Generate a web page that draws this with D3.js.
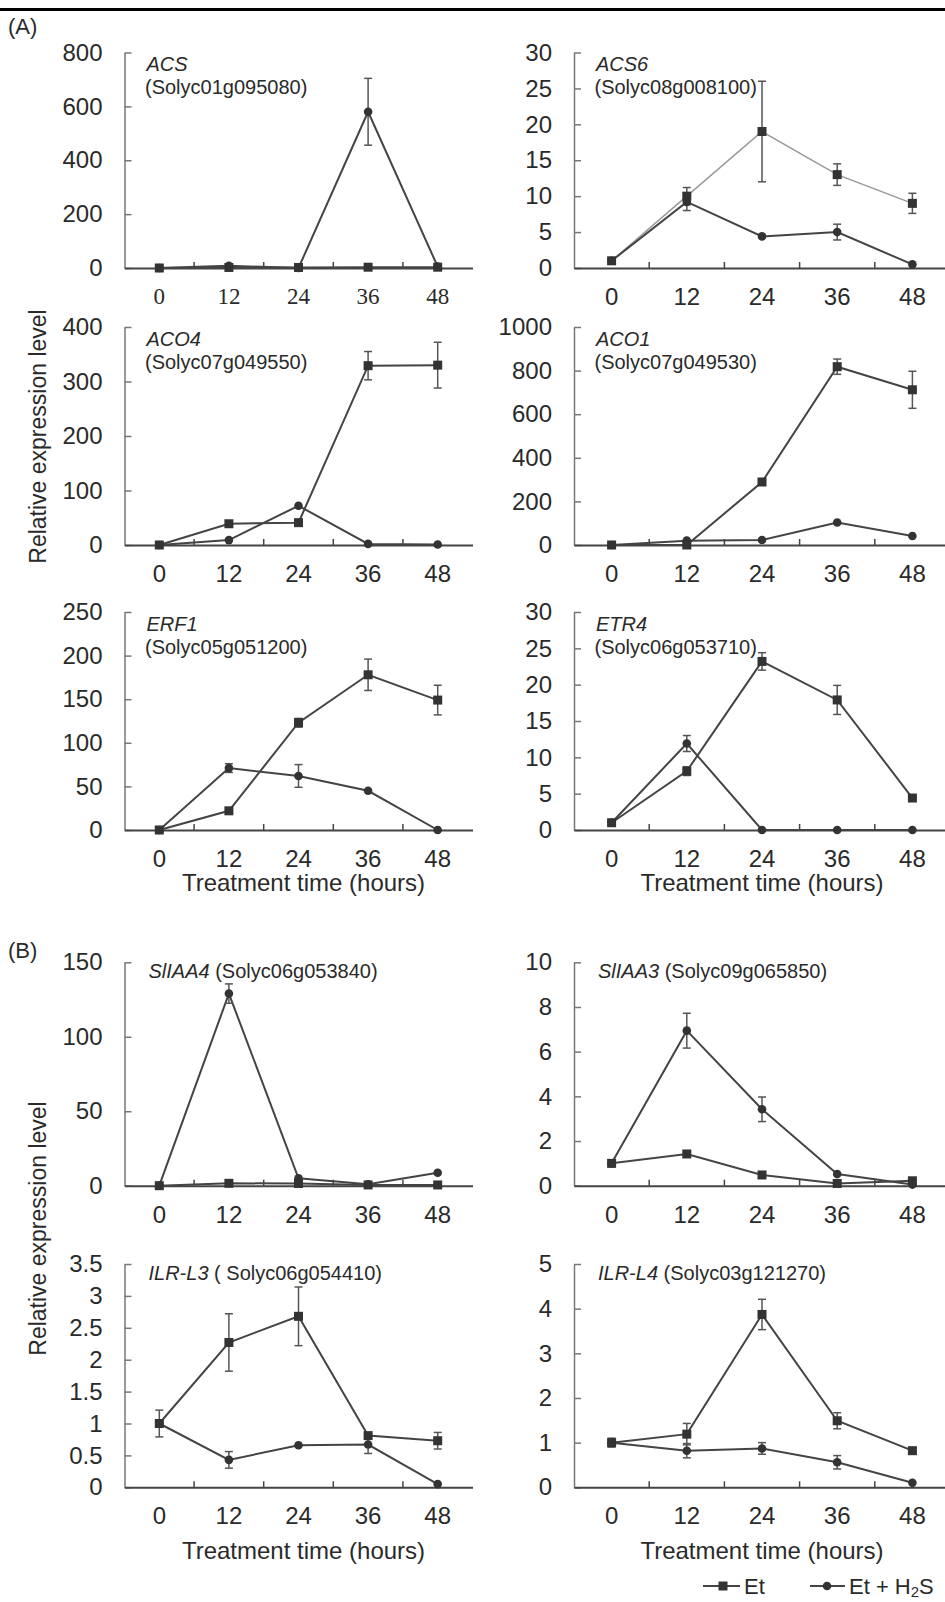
<!DOCTYPE html>
<html>
<head>
<meta charset="utf-8">
<script src="https://cdn.jsdelivr.net/npm/d3@7/dist/d3.min.js"></script>
<style>
  body { margin: 0; background: #fff; }
  text { font-family: "Liberation Sans", Arial, sans-serif; fill: #2a2a2a; }
</style>
</head>
<body>
<div id="mount"></div>
<script>
var WIDTH = 945, HEIGHT = 1602;

var times = ['0', '12', '24', '36', '48'];

// expression values (Et = squares, Et + H2S = circles)
var acsEt = [0, 2, 2, 3, 3];
var acsH2S = [0, 8, 0, 580, 5];
var acsH2SErr = [0, 0, 0, 124, 0];

var acs6Et = [1, 10, 19, 13, 9];
var acs6EtErr = [0, 1.2, 7, 1.5, 1.4];
var acs6H2S = [1, 9.2, 4.4, 5, 0.5];
var acs6H2SErr = [0, 1.2, 0, 1.1, 0];

var aco4Et = [0, 39, 41, 329, 330];
var aco4EtErr = [0, 0, 0, 26, 42];
var aco4H2S = [0, 9, 72, 2, 1];

var aco1Et = [0, 0, 289, 818, 712];
var aco1EtErr = [0, 0, 0, 35, 85];
var aco1H2S = [0, 20, 23, 103, 41];

var erf1Et = [0, 22, 123, 178, 149];
var erf1EtErr = [0, 0, 5, 18, 17];
var erf1H2S = [0, 71, 62, 45, 0];
var erf1H2SErr = [0, 5, 13, 0, 0];

var etr4Et = [1, 8.1, 23.2, 17.9, 4.4];
var etr4EtErr = [0, 0.6, 1.2, 2.0, 0];
var etr4H2S = [1, 11.9, 0, 0, 0];
var etr4H2SErr = [0, 1.1, 0, 0, 0];

var iaa4Et = [0, 1.6, 1.5, 0.5, 0.5];
var iaa4H2S = [0, 129, 5, 1, 8.7];
var iaa4H2SErr = [0, 6.5, 0, 0, 0];

var iaa3Et = [1, 1.42, 0.48, 0.1, 0.22];
var iaa3H2S = [1, 6.94, 3.42, 0.52, 0.05];
var iaa3H2SErr = [0, 0.78, 0.55, 0, 0];

var ilr3Et = [1.0, 2.27, 2.68, 0.81, 0.73];
var ilr3EtErr = [0.21, 0.45, 0.46, 0, 0.13];
var ilr3H2S = [1, 0.43, 0.66, 0.67, 0.05];
var ilr3H2SErr = [0, 0.13, 0, 0.14, 0];

var ilr4Et = [1, 1.19, 3.87, 1.49, 0.82];
var ilr4EtErr = [0.1, 0.24, 0.34, 0.18, 0];
var ilr4H2S = [1, 0.82, 0.87, 0.56, 0.1];
var ilr4H2SErr = [0, 0.16, 0.13, 0.15, 0];

var zeros = [0, 0, 0, 0, 0];

// gene name, id, y max, tick step
var panels = [
  { name: 'ACS', id: '(Solyc01g095080)', max: 800, step: 200, et: acsEt, etErr: zeros, h2s: acsH2S, h2sErr: acsH2SErr, col: 0, row: 0, serif: true },
  { name: 'ACS6', id: '(Solyc08g008100)', max: 30, step: 5, et: acs6Et, etErr: acs6EtErr, h2s: acs6H2S, h2sErr: acs6H2SErr, col: 1, row: 0, lightEt: true },
  { name: 'ACO4', id: '(Solyc07g049550)', max: 400, step: 100, et: aco4Et, etErr: aco4EtErr, h2s: aco4H2S, h2sErr: zeros, col: 0, row: 1 },
  { name: 'ACO1', id: '(Solyc07g049530)', max: 1000, step: 200, et: aco1Et, etErr: aco1EtErr, h2s: aco1H2S, h2sErr: zeros, col: 1, row: 1 },
  { name: 'ERF1', id: '(Solyc05g051200)', max: 250, step: 50, et: erf1Et, etErr: erf1EtErr, h2s: erf1H2S, h2sErr: erf1H2SErr, col: 0, row: 2, xTitle: true },
  { name: 'ETR4', id: '(Solyc06g053710)', max: 30, step: 5, et: etr4Et, etErr: etr4EtErr, h2s: etr4H2S, h2sErr: etr4H2SErr, col: 1, row: 2, xTitle: true },
  { name: 'SlIAA4', id: ' (Solyc06g053840)', max: 150, step: 50, et: iaa4Et, etErr: zeros, h2s: iaa4H2S, h2sErr: iaa4H2SErr, col: 0, row: 3, inline: true },
  { name: 'SlIAA3', id: ' (Solyc09g065850)', max: 10, step: 2, et: iaa3Et, etErr: zeros, h2s: iaa3H2S, h2sErr: iaa3H2SErr, col: 1, row: 3, inline: true },
  { name: 'ILR-L3', id: ' ( Solyc06g054410)', max: 3.5, step: 0.5, et: ilr3Et, etErr: ilr3EtErr, h2s: ilr3H2S, h2sErr: ilr3H2SErr, col: 0, row: 4, inline: true, xTitle: true },
  { name: 'ILR-L4', id: ' (Solyc03g121270)', max: 5, step: 1, et: ilr4Et, etErr: ilr4EtErr, h2s: ilr4H2S, h2sErr: ilr4H2SErr, col: 1, row: 4, inline: true, xTitle: true }
];

var colX = [124.5, 574];
var colW = [348, 376];
var rowTop = [52.5, 327, 612, 962.3, 1264];
var rowBottom = [268, 545, 830, 1185.7, 1487.3];

var svg = d3.select('#mount')
  .append('svg')
  .attr('width', WIDTH)
  .attr('height', HEIGHT);

svg.append('rect').attr('width', WIDTH).attr('height', HEIGHT).attr('fill', '#fff');

svg.append('line')
  .attr('x1', 0).attr('x2', WIDTH)
  .attr('y1', 9.5).attr('y2', 9.5)
  .attr('stroke', '#000').attr('stroke-width', 3);

svg.append('text').attr('x', 8).attr('y', 34).style('font-size', '22px').text('(A)');
svg.append('text').attr('x', 8).attr('y', 958).style('font-size', '22px').text('(B)');

[436.5, 1228.5].forEach(function (cy) {
  svg.append('text')
    .attr('transform', 'translate(46,' + cy + ') rotate(-90)')
    .attr('text-anchor', 'middle')
    .style('font-size', '23px')
    .text('Relative expression level');
});

panels.forEach(function (p) {
  var g = svg.append('g')
    .attr('transform', 'translate(' + colX[p.col] + ',0)');

  var x = d3.scaleBand().domain(times).range([0, colW[p.col]]).paddingInner(0).paddingOuter(0);
  var y = d3.scaleLinear().domain([0, p.max]).range([rowBottom[p.row], rowTop[p.row]]);
  var cx = function (d, i) { return x(times[i]) + x.bandwidth() / 2; };

  // y axis, ticks pointing inward
  var yAxis = d3.axisLeft(y)
    .tickValues(d3.range(0, p.max + p.step / 2, p.step))
    .tickSizeInner(-7)
    .tickSizeOuter(0)
    .tickPadding(22)
    .tickFormat(d3.format('~g'));
  var ya = g.append('g').call(yAxis);
  ya.select('.domain').attr('stroke', '#777').attr('stroke-width', 1.5);
  ya.selectAll('.tick line').attr('stroke', '#777').attr('stroke-width', 1.5);
  ya.selectAll('text').style('font-size', '24px').style('font-family', '"Liberation Sans", Arial, sans-serif').attr('fill', '#333');

  // x axis
  var xAxis = d3.axisBottom(x).tickSize(0).tickPadding(20);
  var xa = g.append('g').attr('transform', 'translate(0,' + rowBottom[p.row] + ')').call(xAxis);
  xa.select('.domain').attr('stroke', '#444').attr('stroke-width', 2);
  xa.selectAll('text')
    .style('font-size', p.serif ? '23px' : '24px')
    .style('font-family', p.serif ? '"Liberation Serif", "Times New Roman", serif' : '"Liberation Sans", Arial, sans-serif')
    .attr('fill', p.serif ? '#555' : '#333');
  xa.selectAll('.bound')
    .data(times.slice(1))
    .enter()
    .append('line')
    .attr('x1', function (d) { return x(d); })
    .attr('x2', function (d) { return x(d); })
    .attr('y1', 0).attr('y2', -6)
    .attr('stroke', '#444').attr('stroke-width', 1.5);

  var line = d3.line().x(cx).y(function (d) { return y(d); });

  g.append('path').datum(p.et)
    .attr('d', line)
    .attr('fill', 'none')
    .attr('stroke', p.lightEt ? '#999' : '#444')
    .attr('stroke-width', p.lightEt ? 1.5 : 2);
  g.append('path').datum(p.h2s)
    .attr('d', line)
    .attr('fill', 'none')
    .attr('stroke', '#444')
    .attr('stroke-width', 2);

  // error bars
  [[p.et, p.etErr], [p.h2s, p.h2sErr]].forEach(function (s) {
    var vals = s[0], errs = s[1];
    var eb = g.append('g').selectAll('g')
      .data(vals.map(function (v, i) { return { v: v, e: errs[i], i: i }; }).filter(function (d) { return d.e > 0; }))
      .enter().append('g')
      .attr('stroke', '#555').attr('stroke-width', 1.5);
    eb.append('line')
      .attr('x1', function (d) { return cx(d, d.i); }).attr('x2', function (d) { return cx(d, d.i); })
      .attr('y1', function (d) { return y(d.v - d.e); }).attr('y2', function (d) { return y(d.v + d.e); });
    eb.append('line')
      .attr('x1', function (d) { return cx(d, d.i) - 4; }).attr('x2', function (d) { return cx(d, d.i) + 4; })
      .attr('y1', function (d) { return y(d.v + d.e); }).attr('y2', function (d) { return y(d.v + d.e); });
    eb.append('line')
      .attr('x1', function (d) { return cx(d, d.i) - 4; }).attr('x2', function (d) { return cx(d, d.i) + 4; })
      .attr('y1', function (d) { return y(d.v - d.e); }).attr('y2', function (d) { return y(d.v - d.e); });
  });

  // markers
  g.append('g').selectAll('rect')
    .data(p.et).enter().append('rect')
    .attr('x', function (d, i) { return cx(d, i) - 4.5; })
    .attr('y', function (d) { return y(d) - 4.5; })
    .attr('width', 9).attr('height', 9)
    .attr('fill', '#333');
  g.append('g').selectAll('circle')
    .data(p.h2s).enter().append('circle')
    .attr('cx', cx)
    .attr('cy', function (d) { return y(d); })
    .attr('r', 4.3)
    .attr('fill', '#333');

  // gene label
  var lx = 22, ly = rowTop[p.row] + 18.5;
  if (p.inline) {
    var t = g.append('text').attr('x', lx + 2).attr('y', ly - 3).style('font-size', '20px').attr('xml:space', 'preserve');
    t.append('tspan').style('font-style', 'italic').text(p.name);
    t.append('tspan').style('white-space', 'pre').text(p.id);
  } else {
    g.append('text').attr('x', lx).attr('y', ly).style('font-size', '20px').style('font-style', 'italic').text(p.name);
    g.append('text').attr('x', lx - 1.5).attr('y', ly + 23).style('font-size', '20px').text(p.id);
  }

  if (p.xTitle) {
    g.append('text')
      .attr('x', colW[p.col] / 2 + (p.col === 0 ? 5 : 0))
      .attr('y', rowBottom[p.row] + (p.row === 2 ? 61 : 72))
      .attr('text-anchor', 'middle')
      .style('font-size', '24px')
      .text('Treatment time (hours)');
  }
});

// legend
var legend = svg.append('g').attr('transform', 'translate(0,1586)');
legend.append('line').attr('x1', 703).attr('x2', 740).attr('y1', 0).attr('y2', 0).attr('stroke', '#444').attr('stroke-width', 2);
legend.append('rect').attr('x', 718.5).attr('y', -4.5).attr('width', 9).attr('height', 9).attr('fill', '#333');
legend.append('text').attr('x', 744).attr('y', 8).style('font-size', '22px').text('Et');
legend.append('line').attr('x1', 810).attr('x2', 845).attr('y1', 0).attr('y2', 0).attr('stroke', '#444').attr('stroke-width', 2);
legend.append('circle').attr('cx', 827).attr('cy', 0).attr('r', 4.3).attr('fill', '#333');
var lt = legend.append('text').attr('x', 849).attr('y', 8).style('font-size', '22px');
lt.append('tspan').text('Et + H');
lt.append('tspan').attr('dy', 3).style('font-size', '15px').text('2');
lt.append('tspan').attr('dy', -3).text('S');
</script>
</body>
</html>
